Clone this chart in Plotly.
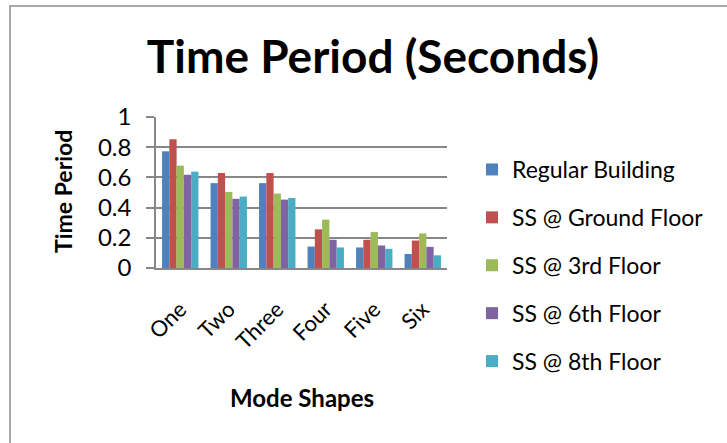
import plotly.graph_objects as go

categories = ["One", "Two", "Three", "Four", "Five", "Six"]
regular = [0.773, 0.562, 0.562, 0.142, 0.136, 0.093]
ss_ground = [0.853, 0.629, 0.629, 0.256, 0.187, 0.182]
ss_3rd = [0.678, 0.504, 0.493, 0.320, 0.238, 0.229]
ss_6th = [0.618, 0.458, 0.453, 0.187, 0.149, 0.140]
ss_8th = [0.638, 0.473, 0.464, 0.136, 0.127, 0.084]
series_names = ["Regular Building", "SS @ Ground Floor", "SS @ 3rd Floor", "SS @ 6th Floor", "SS @ 8th Floor"]
y_ticks = [0, 0.2, 0.4, 0.6, 0.8, 1]
y_tick_text = ["0", "0.2", "0.4", "0.6", "0.8", "1"]

colors = ["#4F81BD", "#C0504D", "#9BBB59", "#8064A2", "#4BACC6"]
FONT = "Lato, sans-serif"

W, H = 727, 443
L, R, T, B = 156, 447, 117, 268

fig = go.Figure()
for i, (name, vals) in enumerate(zip(series_names, [regular, ss_ground, ss_3rd, ss_6th, ss_8th])):
    fig.add_trace(go.Bar(
        x=categories, y=vals, name=name, legendgroup=name,
        marker=dict(color=colors[i], line=dict(width=0)),
    ))

def px_x(p):
    return (p - L) / (R - L)

def px_y(p):
    return (B - p) / (B - T)

fig.add_shape(type="rect", xref="paper", yref="paper",
              x0=px_x(10), x1=px_x(740), y0=px_y(460), y1=px_y(6),
              line=dict(color="#8C8C8C", width=1.5), fillcolor="rgba(0,0,0,0)", layer="below")

fig.add_annotation(text="<b>Time Period</b>", xref="paper", yref="paper",
                   x=px_x(63), y=px_y(192), xanchor="center", yanchor="middle",
                   textangle=-90, showarrow=False,
                   font=dict(family=FONT, size=23, color="black"))
fig.add_annotation(text="<b>Mode Shapes</b>", xref="paper", yref="paper",
                   x=px_x(302), y=px_y(397), xanchor="center", yanchor="middle",
                   showarrow=False,
                   font=dict(family=FONT, size=24, color="black"))

fig.update_layout(
    width=W, height=H,
    margin=dict(l=L, r=W - R, t=T, b=H - B, pad=0, autoexpand=False),
    paper_bgcolor="white", plot_bgcolor="white",
    title=dict(text="<b>Time Period (Seconds)</b>", x=373 / W, xanchor="center",
               y=1 - 57 / H, yanchor="middle",
               font=dict(family=FONT, size=46, color="black")),
    barmode="group", bargap=0.25, bargroupgap=0,
    showlegend=True,
    legend=dict(xref="container", yref="container", x=472 / W, xanchor="left",
                y=1 - 148 / H, yanchor="top", maxheight=1,
                font=dict(family=FONT, size=23, color="black"),
                tracegroupgap=15, itemwidth=30, bgcolor="rgba(0,0,0,0)"),
    font=dict(family=FONT, color="black"),
)

fig.update_yaxes(range=[0, 1], tickvals=y_ticks, ticktext=y_tick_text,
                 showgrid=True, gridcolor="#878787", gridwidth=1.5,
                 showline=True, linecolor="#878787", linewidth=1.5,
                 ticks="outside", ticklen=8, tickcolor="#878787", tickwidth=1.5,
                 ticklabelstandoff=10,
                 tickfont=dict(family=FONT, size=24, color="black"), zeroline=False)
fig.update_xaxes(tickangle=-45, showline=True, linecolor="#878787", linewidth=1.5,
                 ticks="", ticklabelstandoff=18,
                 tickfont=dict(family=FONT, size=22, color="black"))

fig.write_html("out.html", config={"displayModeBar": False},
               post_script="document.body.style.margin='0px';")
